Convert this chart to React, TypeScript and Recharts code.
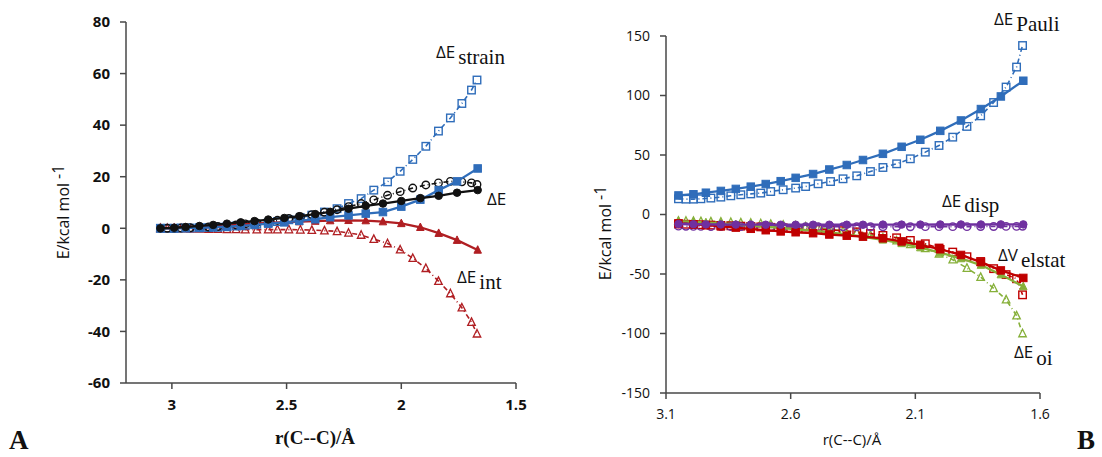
import React from 'react';
import { ScatterChart, Scatter, XAxis, YAxis } from 'recharts';

// Bond distance r(C--C) in Å for the two point sets
const rFilled = [3.05, 2.99, 2.94, 2.88, 2.82, 2.76, 2.70, 2.64, 2.58, 2.51, 2.445, 2.375, 2.31, 2.23, 2.155, 2.08, 2.0, 1.917, 1.837, 1.757, 1.667];
const rOpen = [3.05, 3.02, 2.99, 2.96, 2.92, 2.88, 2.84, 2.80, 2.76, 2.72, 2.68, 2.63, 2.58, 2.54, 2.49, 2.44, 2.39, 2.335, 2.28, 2.23, 2.175, 2.12, 2.06, 2.005, 1.95, 1.893, 1.838, 1.786, 1.736, 1.694, 1.67];

// Panel A (kcal/mol)
const strainFilled = [0, 0, 0.1, 0.2, 0.4, 0.6, 0.9, 1.3, 1.8, 2.3, 2.9, 3.5, 4.3, 5.0, 5.7, 6.3, 8.4, 11.1, 14.8, 18.2, 23.2];
const dEFilled = [0, 0.2, 0.5, 0.9, 1.3, 1.8, 2.3, 2.8, 3.4, 4.0, 4.7, 5.5, 6.4, 7.6, 8.7, 9.6, 10.6, 11.7, 12.6, 13.8, 14.8];
const intFilled = [0, 0.1, 0.3, 0.6, 0.9, 1.2, 1.5, 1.8, 2.1, 2.4, 2.6, 2.8, 3.0, 3.1, 3.0, 2.6, 1.9, 0.4, -1.9, -4.6, -8.4];
const strainOpen = [0, 0, 0, 0.1, 0.1, 0.2, 0.3, 0.4, 0.6, 0.9, 1.2, 1.6, 2.1, 2.6, 3.3, 4.1, 5.1, 6.3, 7.6, 9.6, 11.5, 14.8, 18.0, 22.1, 26.7, 31.8, 37.7, 42.8, 48.4, 53.6, 57.5];
const dEOpen = [0, 0, 0, 0.1, 0.2, 0.3, 0.5, 0.7, 1.0, 1.3, 1.7, 2.1, 2.6, 3.1, 3.8, 4.5, 5.3, 6.2, 7.2, 8.4, 9.6, 11.0, 12.8, 14.2, 15.6, 16.8, 17.6, 18.2, 18.0, 17.6, 17.0];
const intOpen = [0, 0, -0.1, -0.1, -0.2, -0.2, -0.3, -0.3, -0.4, -0.4, -0.5, -0.5, -0.5, -0.5, -0.5, -0.6, -0.7, -0.9, -1.2, -1.8, -2.6, -4.2, -5.9, -8.3, -11.6, -15.5, -20.5, -25.3, -30.8, -36.4, -40.9];

// Panel B (kcal/mol)
const pauliFilled = [16.0, 17.0, 18.3, 19.8, 21.5, 23.4, 25.6, 28.0, 30.8, 34.0, 37.8, 41.6, 45.8, 51.0, 56.9, 62.8, 70.3, 79.0, 88.6, 99.2, 112.4];
const dispFilled = [-8.0, -8.2, -8.3, -8.4, -8.5, -8.5, -8.6, -8.6, -8.6, -8.6, -8.6, -8.6, -8.6, -8.5, -8.5, -8.5, -8.4, -8.4, -8.4, -8.3, -8.3];
const elstatFilled = [-7.5, -8.2, -9.0, -10.0, -11.0, -12.0, -13.2, -14.2, -14.9, -15.7, -16.8, -17.8, -18.6, -20.0, -22.6, -25.5, -29.2, -34.0, -40.0, -47.0, -53.3];
const oiFilled = [-5.5, -6.0, -6.7, -7.5, -8.4, -9.3, -10.3, -11.3, -12.4, -13.6, -15.0, -16.7, -18.7, -21.3, -24.3, -27.8, -32.0, -37.0, -42.5, -50.5, -60.5];
const pauliOpen = [13.2, 12.9, 12.9, 13.2, 13.8, 14.6, 15.7, 16.6, 17.3, 18.0, 19.3, 20.8, 22.2, 23.5, 25.8, 27.7, 30.0, 32.5, 36.1, 39.5, 42.6, 46.8, 52.4, 58.0, 65.0, 74.0, 82.9, 94.1, 107.1, 123.9, 142.0];
const dispOpen = [-9.8, -9.9, -10.0, -10.0, -10.1, -10.1, -10.2, -10.2, -10.2, -10.3, -10.3, -10.3, -10.3, -10.3, -10.3, -10.3, -10.3, -10.3, -10.3, -10.3, -10.3, -10.3, -10.2, -10.2, -10.2, -10.2, -10.1, -10.1, -10.0, -10.0, -9.9];
const elstatOpen = [-8.0, -8.2, -8.4, -8.6, -8.9, -9.2, -9.5, -9.8, -10.1, -10.4, -10.8, -11.2, -11.6, -12.0, -12.5, -13.0, -13.6, -14.6, -16.0, -17.6, -19.6, -21.8, -24.6, -28.2, -31.6, -35.5, -39.5, -45.5, -50.5, -54.0, -67.5];
const oiOpen = [-5.4, -5.5, -5.6, -5.8, -6.0, -6.2, -6.5, -6.8, -7.2, -7.6, -8.1, -8.7, -9.4, -10.2, -11.2, -12.4, -13.8, -15.4, -17.3, -19.5, -22.0, -25.0, -28.5, -33.0, -38.0, -45.0, -52.6, -62.0, -71.5, -85.0, -100.0];

// Axis ticks
const xTicksA = [3, 2.5, 2, 1.5];
const yTicksA = [-60, -40, -20, 0, 20, 40, 60, 80];
const xTicksB = [3.1, 2.6, 2.1, 1.6];
const yTicksB = [-150, -100, -50, 0, 50, 100, 150];

const BLUE = '#2F6DBA';
const BLACK = '#111111';
const REDA = '#B01E22';
const REDB = '#C00000';
const PURPLE = '#7030A0';
const GREEN = '#86B03A';
const AXIS = '#474747';

const toPts = (xs: number[], ys: number[]) => xs.map((x, i) => ({ x, y: ys[i] }));

type Kind = 'sq' | 'sqo' | 'ci' | 'cio' | 'tr' | 'tro';
const marker = (kind: Kind, color: string, s = 7.5) => (p: any) => {
  const { cx, cy } = p;
  if (cx == null || cy == null) return <g />;
  const h = s / 2;
  switch (kind) {
    case 'sq':
      return <rect x={cx - h} y={cy - h} width={s} height={s} fill={color} stroke={color} strokeWidth={1} />;
    case 'sqo':
      return <rect x={cx - h} y={cy - h} width={s} height={s} fill="none" stroke={color} strokeWidth={1.4} />;
    case 'ci':
      return <circle cx={cx} cy={cy} r={h} fill={color} stroke={color} strokeWidth={1} />;
    case 'cio':
      return <circle cx={cx} cy={cy} r={h} fill="none" stroke={color} strokeWidth={1.4} />;
    case 'tr':
      return <polygon points={`${cx},${cy - h - 0.5} ${cx + h},${cy + h - 0.5} ${cx - h},${cy + h - 0.5}`} fill={color} stroke={color} strokeWidth={1} />;
    default:
      return <polygon points={`${cx},${cy - h - 0.5} ${cx + h},${cy + h - 0.5} ${cx - h},${cy + h - 0.5}`} fill="none" stroke={color} strokeWidth={1.3} />;
  }
};

const solid = (c: string) => ({ stroke: c, strokeWidth: 2.3 });
const dashed = (c: string) => ({ stroke: c, strokeWidth: 1.6, strokeDasharray: '5 3 1 3' });

const tickA = { fontSize: 15, fontWeight: 700, fill: '#111', fontFamily: 'Open Sans, sans-serif' };
const tickB = { fontSize: 14, fontWeight: 400, fill: '#111', fontFamily: 'Open Sans, sans-serif' };

function PanelA() {
  return (
    <ScatterChart width={560} height={457} margin={{ top: 22, right: 44, bottom: 44, left: 66 }}>
      <XAxis dataKey="x" type="number" domain={[1.5, 3.2]} reversed ticks={xTicksA} allowDataOverflow
        stroke={AXIS} strokeWidth={1.5} tickLine={{ stroke: AXIS }} tick={tickA} tickMargin={10} height={30} />
      <YAxis dataKey="y" type="number" domain={[-60, 80]} ticks={yTicksA} allowDataOverflow
        stroke={AXIS} strokeWidth={1.5} tickLine={{ stroke: AXIS }} tick={tickA} tickMargin={10} width={60} />
      <Scatter data={toPts(rOpen, intOpen)} shape={marker('tro', REDA)} line={dashed(REDA)} lineType="joint" isAnimationActive={false} />
      <Scatter data={toPts(rOpen, strainOpen)} shape={marker('sqo', BLUE)} line={dashed(BLUE)} lineType="joint" isAnimationActive={false} />
      <Scatter data={toPts(rOpen, dEOpen)} shape={marker('cio', BLACK)} line={dashed(BLACK)} lineType="joint" isAnimationActive={false} />
      <Scatter data={toPts(rFilled, intFilled)} shape={marker('tr', REDA)} line={solid(REDA)} lineType="joint" isAnimationActive={false} />
      <Scatter data={toPts(rFilled, strainFilled)} shape={marker('sq', BLUE)} line={solid(BLUE)} lineType="joint" isAnimationActive={false} />
      <Scatter data={toPts(rFilled, dEFilled)} shape={marker('ci', BLACK)} line={solid(BLACK)} lineType="joint" isAnimationActive={false} />
    </ScatterChart>
  );
}

function PanelB() {
  return (
    <ScatterChart width={542} height={457} margin={{ top: 36, right: 62, bottom: 34, left: 46 }}>
      <XAxis dataKey="x" type="number" domain={[1.6, 3.1]} reversed ticks={xTicksB} allowDataOverflow
        stroke={AXIS} strokeWidth={1.5} tickLine={{ stroke: AXIS }} tick={tickB} tickMargin={10} height={30} />
      <YAxis dataKey="y" type="number" domain={[-150, 150]} ticks={yTicksB} allowDataOverflow
        stroke={AXIS} strokeWidth={1.5} tickLine={{ stroke: AXIS }} tick={tickB} tickMargin={10} width={60} />
      <Scatter data={toPts(rOpen, oiOpen)} shape={marker('tro', GREEN)} line={dashed(GREEN)} lineType="joint" isAnimationActive={false} />
      <Scatter data={toPts(rOpen, elstatOpen)} shape={marker('sqo', REDB)} line={dashed(REDB)} lineType="joint" isAnimationActive={false} />
      <Scatter data={toPts(rOpen, dispOpen)} shape={marker('cio', PURPLE)} line={dashed(PURPLE)} lineType="joint" isAnimationActive={false} />
      <Scatter data={toPts(rOpen, pauliOpen)} shape={marker('sqo', BLUE)} line={dashed(BLUE)} lineType="joint" isAnimationActive={false} />
      <Scatter data={toPts(rFilled, oiFilled)} shape={marker('tr', GREEN)} line={solid(GREEN)} lineType="joint" isAnimationActive={false} />
      <Scatter data={toPts(rFilled, elstatFilled)} shape={marker('sq', REDB)} line={solid(REDB)} lineType="joint" isAnimationActive={false} />
      <Scatter data={toPts(rFilled, dispFilled)} shape={marker('ci', PURPLE)} line={solid(PURPLE)} lineType="joint" isAnimationActive={false} />
      <Scatter data={toPts(rFilled, pauliFilled)} shape={marker('sq', BLUE)} line={solid(BLUE)} lineType="joint" isAnimationActive={false} />
    </ScatterChart>
  );
}

const SANS = 'Open Sans, Liberation Sans, sans-serif';
const SERIF = 'Liberation Serif, DejaVu Serif, serif';

function Label({ x, y, main, sub, subDx = 3, subDy = 6 }: { x: number; y: number; main: string; sub?: string; subDx?: number; subDy?: number }) {
  return (
    <text x={x} y={y} fill="#111">
      <tspan fontFamily={SANS} fontSize={17}>{main}</tspan>
      {sub ? <tspan fontFamily={SERIF} fontSize={21} dx={subDx} dy={subDy}>{sub}</tspan> : null}
    </text>
  );
}

export default function App() {
  return (
    <div style={{ position: 'absolute', left: 0, top: 0, width: 1102, height: 457, background: '#fff', overflow: 'hidden' }}>
      <div style={{ position: 'absolute', left: 0, top: 0 }}><PanelA /></div>
      <div style={{ position: 'absolute', left: 560, top: 0 }}><PanelB /></div>
      <svg width={1102} height={457} style={{ position: 'absolute', left: 0, top: 0, pointerEvents: 'none' }}>
        {/* Panel A texts */}
        <text transform="translate(69,212) rotate(-90)" textAnchor="middle" fontFamily={SANS} fontSize={16} fill="#111">
          E/kcal mol<tspan dx={4} dy={-5}>-1</tspan>
        </text>
        <text x={315} y={444} textAnchor="middle" fontFamily={SERIF} fontWeight={700} fontSize={19} fill="#111">r(C--C)/Å</text>
        <Label x={436} y={58} main="ΔE" sub="strain" subDy={6} />
        <Label x={487} y={205} main="ΔE" />
        <Label x={457} y={283} main="ΔE" sub="int" subDy={6} />
        <text x={9} y={449} fontFamily={SERIF} fontWeight={700} fontSize={27} fill="#111">A</text>

        {/* Panel B texts */}
        <text transform="translate(611,233) rotate(-90)" textAnchor="middle" fontFamily={SANS} fontSize={16} fill="#111">
          E/kcal mol<tspan dx={4} dy={-5}>-1</tspan>
        </text>
        <text x={852} y={445} textAnchor="middle" fontFamily={SANS} fontSize={15} fill="#111">r(C--C)/Å</text>
        <Label x={994} y={25} main="ΔE" sub="Pauli" subDy={6} />
        <Label x={942} y={207} main="ΔE" sub="disp" subDy={5} />
        <Label x={998} y={261} main="ΔV" sub="elstat" subDy={6} />
        <Label x={1014} y={358} main="ΔE" sub="oi" subDy={7} />
        <text x={1077} y={449} fontFamily={SERIF} fontWeight={700} fontSize={27} fill="#111">B</text>
      </svg>
    </div>
  );
}
